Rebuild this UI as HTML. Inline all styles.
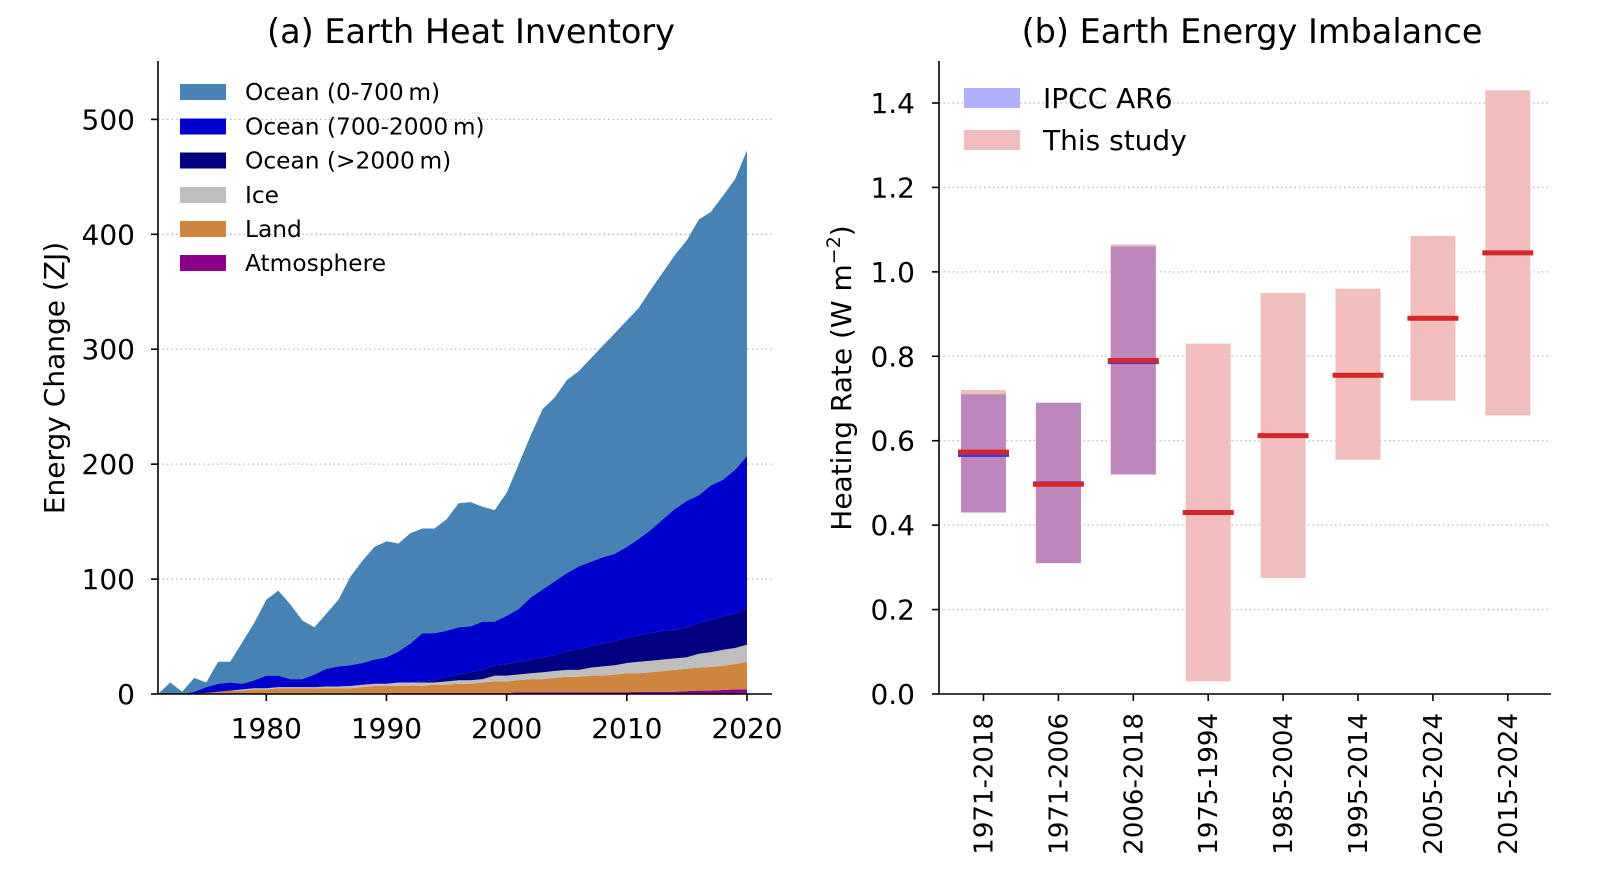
<!DOCTYPE html>
<html><head><meta charset="utf-8"><style>
html,body{margin:0;padding:0;background:#fff;}
svg{display:block;font-family:"DejaVu Sans","Liberation Sans",sans-serif;}
</style></head><body>
<svg id="fig" width="1600" height="873" viewBox="0 0 1600 873">
<g id="left"></g>
<g id="right"></g>
</svg>
<script>
// ---- Panel (a) data ----
const years = [];
for (let y = 1971; y <= 2020; y++) years.push(y);
const atmosphere = [0,0,0,0,0,0,0,0,0,0, .5,.5,.5,.5,.5,.5,.5,.5,.5,.5, 1,1,1,1,1,1,1,1,1,1, 1.5,1.5,1.5,1.5,1.5,1.5,1.5,1.5,1.5,1.5, 2,2,2,2,2.5,3,3,3.5,4,4];
const land = [0,0,0,0,1,2,3,3,4,4, 4.5,4.5,4.5,4.5,4.5,4.5,4.5,5.5,6.5,6.5, 6,6,6,7,7,8,8,9,10,10, 10.5,11.5,11.5,12.5,13.5,13.5,14.5,14.5,15.5,16.5, 16,17,18,19,19.5,20,20.5,21,22,24];
const ice = [0,0,0,0,0,0,0,1,1,1, 1,1,1,1,1.5,1.5,2,2,2,2, 3,3,3,2,3,3,3,3,5,5, 5,5,6,6,6,6,7,8,8,9, 10,10,10,10,10,12,13,14,14,15];
const oceanDeep = [0,0,0,0,0,0,0,0,0,0, 0,0,0,0,0,0,0,0,0,0, 0,0,1,2,4,5,7,8,9,10, 11,12,13,14,16,18,19,20,21,22, 23,24,25,25,26,27,28,29,30,32];
const oceanMid = [0,0,0,2,5,7,7,5,7,11, 10,7,7,11,15.5,17.5,18,19,21,23, 27,34,42,41,40,41,40,42,38,42, 46,54,59,64,68,72,73,75,76,79, 84,90,97,105,110,111,117,119,125,132];
const oceanUpper = [0,10,2,12,4,19,18,36,50,66, 74,65,51,41,48,58,77,89,98,101, 94,96,91,91,97,108,108,100,97,107, 126,141,157,160,168,170,177,184,192,197, 201,209,215,221,227,240,238,247,253,266];
const leftYTicks = [0,100,200,300,400,500];
const leftXTicks = [1980,1990,2000,2010,2020];
const layerNames = ["Atmosphere","Land","Ice","Ocean (>2000 m)","Ocean (700-2000 m)","Ocean (0-700 m)"];
const layerColors = ["#8b008b","#cd853f","#bebebe","#000080","#0000cd","#4682b4"];

// ---- Panel (b) data ----
const periods = ["1971-2018","1971-2006","2006-2018","1975-1994","1985-2004","1995-2014","2005-2024","2015-2024"];
const studyLow = [0.43,0.31,0.52,0.03,0.275,0.555,0.695,0.66];
const studyHigh = [0.72,0.68,1.065,0.83,0.95,0.96,1.085,1.43];
const studyMid = [0.573,0.497,0.79,0.43,0.612,0.755,0.89,1.045];
const ipccLow = [0.43,0.31,0.52];
const ipccHigh = [0.71,0.69,1.06];
const ipccMid = [0.565,0.50,0.785];
const rightYTicks = [0.0,0.2,0.4,0.6,0.8,1.0,1.2,1.4];

const NS = "http://www.w3.org/2000/svg";
function mk(parent, tag, attrs, text) {
  const e = document.createElementNS(NS, tag);
  for (const k in attrs) e.setAttribute(k, attrs[k]);
  if (text !== undefined) e.textContent = text;
  parent.appendChild(e);
  return e;
}

// ===== Panel (a) =====
const L = document.getElementById('left');
const axL = {x0:158, x1:772, yTop:61, yBot:694};
const xA = y => 266.3 + (y - 1980) * (747 - 266.3) / 40;
const yA = v => 694 - v * (694 - 119.4) / 500;

leftYTicks.forEach(t => {
  const g = mk(L, 'line', {x1:axL.x0, x2:axL.x1, y1:yA(t), y2:yA(t), stroke:'#bbb', 'stroke-width':1.3, 'stroke-dasharray':'1.5,3'});
  
  
});

const layers = [atmosphere, land, ice, oceanDeep, oceanMid, oceanUpper];
const cum = years.map(() => 0);
layers.forEach((arr, li) => {
  const lower = cum.slice();
  arr.forEach((v, i) => cum[i] += v);
  let d = '';
  years.forEach((yr, i) => { d += (i ? 'L' : 'M') + xA(yr).toFixed(1) + ',' + yA(cum[i]).toFixed(1); });
  for (let i = years.length - 1; i >= 0; i--) d += 'L' + xA(years[i]).toFixed(1) + ',' + yA(lower[i]).toFixed(1);
  const p = mk(L, 'path', {d: d + 'Z', fill: layerColors[li]});
  
  
});

let s = mk(L, 'line', {x1:axL.x0, x2:axL.x0, y1:axL.yTop, y2:axL.yBot, stroke:'#000', 'stroke-width':1.6});
 
s = mk(L, 'line', {x1:axL.x0, x2:axL.x1, y1:axL.yBot, y2:axL.yBot, stroke:'#000', 'stroke-width':1.6});
 

leftYTicks.forEach(t => {
  mk(L, 'line', {x1:axL.x0 - 7, x2:axL.x0, y1:yA(t), y2:yA(t), stroke:'#000', 'stroke-width':1.6});
  const tx = mk(L, 'text', {x:135, y:yA(t) + 10, 'text-anchor':'end', 'font-size':28}, String(t));
  
  
});
leftXTicks.forEach(t => {
  mk(L, 'line', {x1:xA(t), x2:xA(t), y1:axL.yBot, y2:axL.yBot + 7, stroke:'#000', 'stroke-width':1.6});
  const tx = mk(L, 'text', {x:xA(t), y:738, 'text-anchor':'middle', 'font-size':28}, String(t));
  
  
});

let t = mk(L, 'text', {x:471, y:43, 'text-anchor':'middle', 'font-size':33.5}, '(a) Earth Heat Inventory');
 
t = mk(L, 'text', {x:0, y:0, 'text-anchor':'middle', 'font-size':28, transform:'translate(64,378) rotate(-90)'}, 'Energy Change (ZJ)');
 

const legOrder = [5,4,3,2,1,0];
const legY = [92,126.5,160.5,195,229,263];
const legLabels = ["Ocean (0-700\u2009m)","Ocean (700-2000\u2009m)","Ocean (>2000\u2009m)","Ice","Land","Atmosphere"];
legOrder.forEach((li, k) => {
  const g = mk(L, 'g', {});
  
  
  mk(g, 'rect', {x:180, y:legY[k] - 8, width:46, height:16, fill:layerColors[li]});
  mk(g, 'text', {x:245, y:legY[k] + 8, 'font-size':23.3}, legLabels[k]);
});

// ===== Panel (b) =====
const R = document.getElementById('right');
const axR = {x0:939, x1:1551, yTop:61, yBot:694};
const xB = i => 983.5 + i * 74.9;
const yB = v => 694 - v * (694 - 103) / 1.4;
const half = 22.5;

rightYTicks.forEach(v => {
  const g = mk(R, 'line', {x1:axR.x0, x2:axR.x1, y1:yB(v), y2:yB(v), stroke:'#bbb', 'stroke-width':1.3, 'stroke-dasharray':'1.5,3'});
  
  
});

periods.forEach((p, i) => {
  const r = mk(R, 'rect', {x:xB(i) - half, y:yB(studyHigh[i]), width:2 * half, height:yB(studyLow[i]) - yB(studyHigh[i]), fill:'#f1bdbd'});
  
  
});
ipccLow.forEach((lo, i) => {
  const r = mk(R, 'rect', {x:xB(i) - half, y:yB(ipccHigh[i]), width:2 * half, height:yB(lo) - yB(ipccHigh[i]), fill:'#bd86bc'});
  
  
});
ipccMid.forEach((m, i) => {
  const l = mk(R, 'line', {x1:xB(i) - half - 3, x2:xB(i) + half + 3, y1:yB(m), y2:yB(m), stroke:'#3a3ae0', 'stroke-width':3});
  
  
});
studyMid.forEach((m, i) => {
  const l = mk(R, 'line', {x1:xB(i) - half - 3, x2:xB(i) + half + 3, y1:yB(m), y2:yB(m), stroke:'#d62728', 'stroke-width':5});
  
  
});

s = mk(R, 'line', {x1:axR.x0, x2:axR.x0, y1:axR.yTop, y2:axR.yBot, stroke:'#000', 'stroke-width':1.6});
 
s = mk(R, 'line', {x1:axR.x0, x2:axR.x1, y1:axR.yBot, y2:axR.yBot, stroke:'#000', 'stroke-width':1.6});
 

rightYTicks.forEach(v => {
  mk(R, 'line', {x1:axR.x0 - 7, x2:axR.x0, y1:yB(v), y2:yB(v), stroke:'#000', 'stroke-width':1.6});
  const tx = mk(R, 'text', {x:915, y:yB(v) + 10, 'text-anchor':'end', 'font-size':28}, v.toFixed(1));
  
  
});
periods.forEach((p, i) => {
  mk(R, 'line', {x1:xB(i), x2:xB(i), y1:axR.yBot, y2:axR.yBot + 7, stroke:'#000', 'stroke-width':1.6});
  const tx = mk(R, 'text', {x:0, y:0, 'text-anchor':'end', 'font-size':26, transform:'translate(' + (xB(i) + 9) + ',713) rotate(-90)'}, p);
  
  
});

t = mk(R, 'text', {x:1252, y:43, 'text-anchor':'middle', 'font-size':33.5}, '(b) Earth Energy Imbalance');
 
t = mk(R, 'text', {x:0, y:0, 'text-anchor':'middle', 'font-size':28, transform:'translate(851,378) rotate(-90)'});
 
mk(t, 'tspan', {}, 'Heating Rate (W m');
mk(t, 'tspan', {dy:-11, 'font-size':19}, '\u22122');
mk(t, 'tspan', {dy:11}, ')');

const legR = [["IPCC AR6", "#b0b0fe", 98], ["This study", "#f1bdbd", 140]];
legR.forEach(([lab, col, yy]) => {
  const g = mk(R, 'g', {});
  
  
  mk(g, 'rect', {x:964, y:yy - 10, width:56, height:20, fill:col});
  mk(g, 'text', {x:1043, y:yy + 10, 'font-size':28}, lab);
});
</script>
</body></html>
